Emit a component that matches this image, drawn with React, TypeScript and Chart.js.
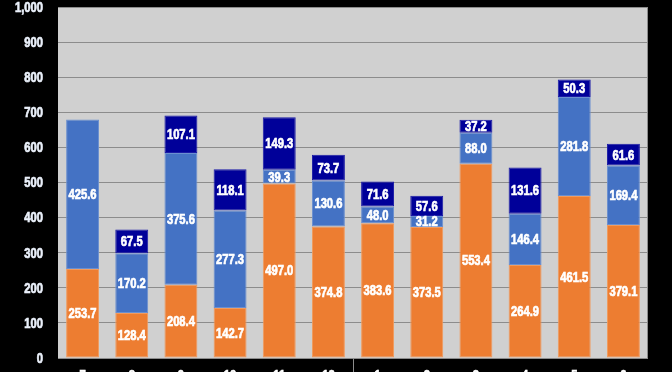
import React, { useEffect, useRef } from "react";
import { Chart, registerables } from "chart.js";

Chart.register(...registerables);

const categories = ["7", "8", "9", "10", "11", "12", "1", "2", "3", "4", "5", "6"];
const seriesOrange = [253.7, 128.4, 208.4, 142.7, 497.0, 374.8, 383.6, 373.5, 553.4, 264.9, 461.5, 379.1];
const seriesBlue = [425.6, 170.2, 375.6, 277.3, 39.3, 130.6, 48.0, 31.2, 88.0, 146.4, 281.8, 169.4];
const seriesNavy = [0, 67.5, 107.1, 118.1, 149.3, 73.7, 71.6, 57.6, 37.2, 131.6, 50.3, 61.6];
const yTicks = [0, 100, 200, 300, 400, 500, 600, 700, 800, 900, 1000];

const FONT = "'Liberation Sans', Arial, sans-serif";
const SQUEEZE = 0.8;

function narrowText(ctx: CanvasRenderingContext2D, text: string, x: number, y: number) {
  ctx.save();
  ctx.translate(x, y);
  ctx.scale(SQUEEZE, 1);
  ctx.lineWidth = 0.7;
  ctx.strokeStyle = ctx.fillStyle as string;
  ctx.strokeText(text, 0, 0);
  ctx.fillText(text, 0, 0);
  ctx.restore();
}

const plotBg = {
  id: "plotBg",
  beforeDraw(chart: any) {
    const { ctx, chartArea: a } = chart;
    ctx.save();
    ctx.fillStyle = "#000";
    ctx.fillRect(0, 0, chart.width, chart.height);
    ctx.fillStyle = "#d0d0d0";
    ctx.fillRect(a.left, a.top, a.right - a.left, a.bottom - a.top);
    ctx.restore();
  },
  afterDraw(chart: any) {
    const { ctx, chartArea: a } = chart;
    ctx.save();
    ctx.strokeStyle = "#8c8c8c";
    ctx.lineWidth = 1;
    ctx.beginPath();
    ctx.moveTo(a.left + 0.5, a.top + 0.5);
    ctx.lineTo(a.right - 0.5, a.top + 0.5);
    ctx.lineTo(a.right - 0.5, a.bottom);
    ctx.stroke();

    // y tick labels
    const ys = chart.scales.y;
    ctx.font = `bold 14px ${FONT}`;
    ctx.fillStyle = "#eaf0fa";
    ctx.textAlign = "right";
    ctx.textBaseline = "middle";
    yTicks.forEach((v) => {
      narrowText(ctx, v.toLocaleString("en-US"), 43, ys.getPixelForValue(v) + 1);
    });

    // x tick labels (cut off by the bottom edge)
    const xs = chart.scales.x;
    ctx.fillStyle = "#ffffff";
    ctx.textAlign = "center";
    ctx.textBaseline = "alphabetic";
    categories.forEach((c, i) => {
      narrowText(ctx, c, xs.getPixelForValue(i), a.bottom + 22);
    });
    ctx.restore();
  },
};

const valueLabels = {
  id: "valueLabels",
  afterDatasetsDraw(chart: any) {
    const { ctx } = chart;
    ctx.save();
    ctx.font = `bold 14px ${FONT}`;
    ctx.fillStyle = "#ffffff";
    ctx.textAlign = "center";
    ctx.textBaseline = "middle";
    chart.data.datasets.forEach((ds: any, di: number) => {
      const meta = chart.getDatasetMeta(di);
      meta.data.forEach((el: any, i: number) => {
        const v = ds.data[i];
        if (!v) return;
        const y = (el.y + el.base) / 2;
        narrowText(ctx, v.toFixed(1), el.x, y + 1);
      });
    });
    ctx.restore();
  },
};

export default function App() {
  const ref = useRef<HTMLCanvasElement>(null);
  useEffect(() => {
    const common = { borderWidth: 1, borderSkipped: false, barPercentage: 0.67, categoryPercentage: 1 };
    const chart = new Chart(ref.current!, {
      type: "bar",
      data: {
        labels: categories,
        datasets: [
          { data: seriesOrange, backgroundColor: "#ED7D31", borderColor: "#F29A5C", ...common },
          { data: seriesBlue, backgroundColor: "#4472C4", borderColor: "#6A8FD0", ...common },
          { data: seriesNavy, backgroundColor: "#000099", borderColor: "#1a1aa6", ...common },
        ],
      },
      options: {
        animation: false,
        responsive: false,
        devicePixelRatio: 1,
        layout: { padding: { top: 7, right: 24, left: 0, bottom: 0 } },
        plugins: { legend: { display: false }, tooltip: { enabled: false } },
        scales: {
          x: {
            stacked: true,
            offset: true,
            afterFit: (s: any) => { s.height = 14; },
            grid: {
              offset: true,
              drawOnChartArea: false,
              tickLength: 14,
              color: (c: any) => (c.index === 6 ? "#8c8c8c" : "rgba(0,0,0,0)"),
            },
            border: { display: false },
            ticks: { display: false },
          },
          y: {
            stacked: true,
            min: 0,
            max: 1000,
            afterFit: (s: any) => { s.width = 58; },
            afterBuildTicks: (s: any) => { s.ticks = yTicks.map((v) => ({ value: v })); },
            grid: { color: "#8c8c8c", drawTicks: false },
            border: { display: false },
            ticks: { display: false },
          },
        },
      },
      plugins: [plotBg, valueLabels],
    });
    return () => chart.destroy();
  }, []);
  return (
    <div style={{ position: "fixed", left: 0, top: 0, width: 672, height: 372, background: "#000" }}>
      <canvas ref={ref} width={672} height={372} style={{ display: "block" }} />
    </div>
  );
}
